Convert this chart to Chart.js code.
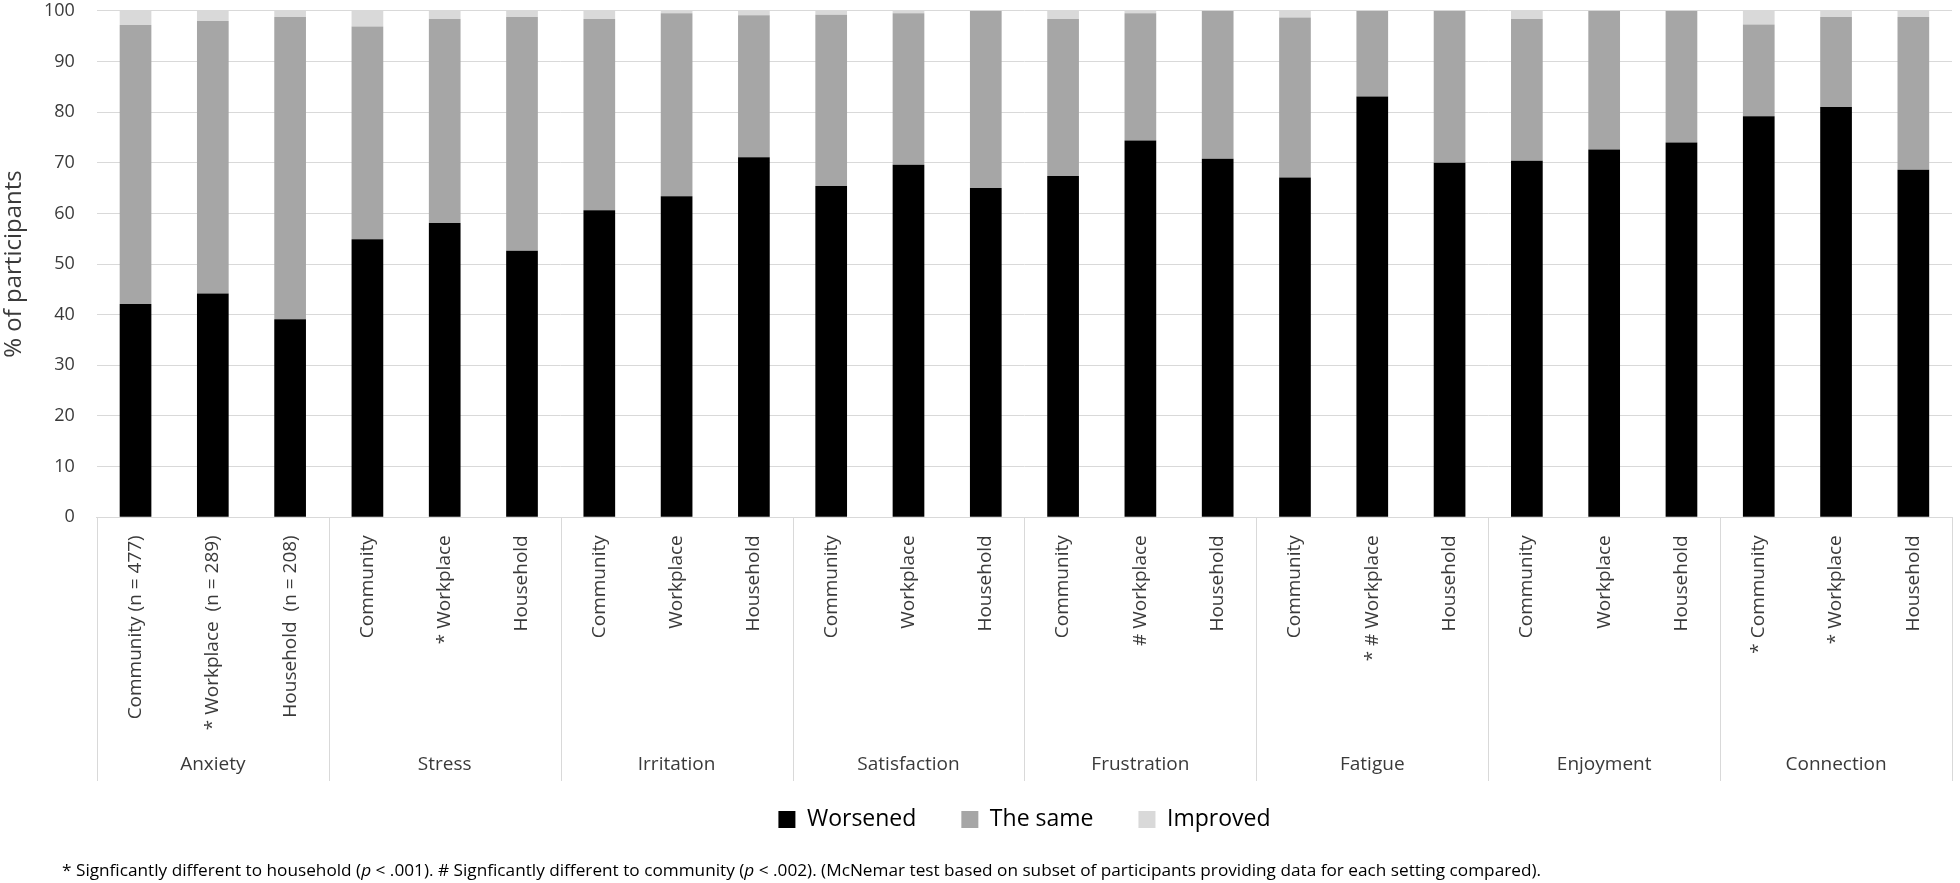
<!DOCTYPE html>
<html>
  <head>
    <title>Change by setting</title>
    <style>
      html, body { margin: 0; padding: 0; background: #ffffff; }
      #wrap { width: 1960px; height: 883px; }
    </style>
  </head>

  <body>
    <div id="wrap"><canvas id="settingsChart" width="1960" height="883"></canvas></div>

    <script src="https://cdn.jsdelivr.net/npm/chart.js"></script>
    <script>
      // outcome groups, three settings each
      const groups = ["Anxiety", "Stress", "Irritation", "Satisfaction", "Frustration", "Fatigue", "Enjoyment", "Connection"];
      const settings = [
        "Community (n = 477)", "* Workplace  (n = 289)", "Household  (n = 208)",
        "Community", "* Workplace", "Household",
        "Community", "Workplace", "Household",
        "Community", "Workplace", "Household",
        "Community", "# Workplace", "Household",
        "Community", "* # Workplace", "Household",
        "Community", "Workplace", "Household",
        "* Community", "* Workplace", "Household",
      ];

      // % of participants
      const worsened = [42.1, 44.2, 39.1, 54.9, 58.1, 52.6, 60.6, 63.4, 71.1, 65.4, 69.6, 65.0, 67.4, 74.4, 70.8, 67.1, 83.1, 70.0, 70.4, 72.6, 74.0, 79.2, 81.0, 68.6];
      const theSame = [55.1, 53.8, 59.7, 42.0, 40.3, 46.2, 37.8, 36.1, 28.0, 33.8, 29.9, 35.0, 31.0, 25.1, 29.2, 31.6, 16.9, 30.0, 28.0, 27.4, 26.0, 18.1, 17.8, 30.2];
      const improved = [2.8, 2.0, 1.2, 3.1, 1.6, 1.2, 1.6, 0.5, 0.9, 0.8, 0.5, 0.0, 1.6, 0.5, 0.0, 1.3, 0.0, 0.0, 1.6, 0.0, 0.0, 2.7, 1.2, 1.2];

      const yMin = 0;
      const yMax = 100;
      const yStep = 10;

      const footnoteParts = [
        ["* Signficantly different to household (", false],
        ["p", true],
        " < .001). # Signficantly different to community (",
        ["p", true],
        " < .002). (McNemar test based on subset of participants providing data for each setting compared).",
      ].map((p) => (Array.isArray(p) ? p : [p, false]));

      const FONT = "'Open Sans', 'DejaVu Sans', sans-serif";
      const TEXT = "#3a3a3a";
      const GRID = "#d9d9d9";
      const legendLift = 18; // legend row sits closer to the group labels than its item gap

      // group separators under the axis, legend placement, footnote
      const extras = {
        id: "extras",
        afterLayout(chart) {
          const lg = chart.legend;
          const area = chart.chartArea;
          const shift = (area.left + area.right) / 2 - (lg.left + lg.right) / 2;
          lg.left += shift;
          lg.right += shift;
          lg.top -= legendLift;
          lg.bottom -= legendLift;
        },
        afterDraw(chart) {
          const { ctx, chartArea, scales } = chart;
          const x = scales.x;
          const perGroup = settings.length / groups.length;
          ctx.save();
          ctx.strokeStyle = GRID;
          ctx.lineWidth = 1;
          for (let g = 0; g <= groups.length; g++) {
            const px = Math.round(x.getPixelForValue(g * perGroup - 0.5)) + 0.5;
            ctx.beginPath();
            ctx.moveTo(px, chartArea.bottom);
            ctx.lineTo(px, scales.x2.bottom);
            ctx.stroke();
          }

          // footnote, squeezed to the width used in the figure
          const normal = `17px ${FONT}`;
          const italic = `italic 17px ${FONT}`;
          let total = 0;
          footnoteParts.forEach(([t, it]) => {
            ctx.font = it ? italic : normal;
            total += ctx.measureText(t).width;
          });
          const startX = 62;
          const endX = 1541;
          ctx.translate(startX, 871);
          ctx.scale((endX - startX) / total, 1);
          ctx.fillStyle = "#000000";
          ctx.textBaseline = "middle";
          let cx = 0;
          footnoteParts.forEach(([t, it]) => {
            ctx.font = it ? italic : normal;
            ctx.fillText(t, cx, 0);
            cx += ctx.measureText(t).width;
          });
          ctx.restore();
        },
      };

      const ctx = document.getElementById("settingsChart").getContext("2d");
      new Chart(ctx, {
        type: "bar",
        data: {
          labels: settings,
          datasets: [
            { label: "Worsened", data: worsened, backgroundColor: "#000000" },
            { label: "The same", data: theSame, backgroundColor: "#a6a6a6" },
            { label: "Improved", data: improved, backgroundColor: "#d9d9d9" },
          ],
        },
        options: {
          responsive: false,
          animation: false,
          datasets: {
            bar: { barPercentage: 0.41, categoryPercentage: 1, borderWidth: 0 },
          },
          layout: { padding: { left: 0, right: 8, top: 0, bottom: 24 } },
          plugins: {
            tooltip: { enabled: false },
            legend: {
              position: "bottom",
              labels: {
                boxWidth: 17,
                boxHeight: 17,
                padding: 45,
                color: "#000000",
                font: { family: FONT, size: 23 },
              },
            },
          },
          scales: {
            x: {
              stacked: true,
              grid: { display: false, drawTicks: false },
              border: { display: true, color: GRID, width: 1 },
              ticks: {
                autoSkip: false,
                minRotation: 90,
                maxRotation: 90,
                padding: 18,
                color: TEXT,
                font: { family: FONT, size: 19 },
              },
            },
            x2: {
              type: "category",
              labels: groups,
              position: "bottom",
              weight: 1,
              offset: true,
              grid: { display: false, drawTicks: false },
              border: { display: false },
              ticks: {
                autoSkip: false,
                maxRotation: 0,
                padding: 5,
                color: TEXT,
                font: { family: FONT, size: 19 },
              },
            },
            y: {
              stacked: true,
              min: yMin,
              max: yMax,
              grid: { color: GRID, drawTicks: true, tickLength: 22, tickColor: "rgba(0,0,0,0)" },
              border: { display: false },
              ticks: {
                stepSize: yStep,
                padding: 0,
                color: TEXT,
                font: { family: FONT, size: 18 },
              },
              title: {
                display: true,
                text: "% of participants",
                color: TEXT,
                font: { family: FONT, size: 24, lineHeight: 1 },
                padding: { top: 2, bottom: 18 },
              },
            },
          },
        },
        plugins: [extras],
      });
    </script>
  </body>
</html>
